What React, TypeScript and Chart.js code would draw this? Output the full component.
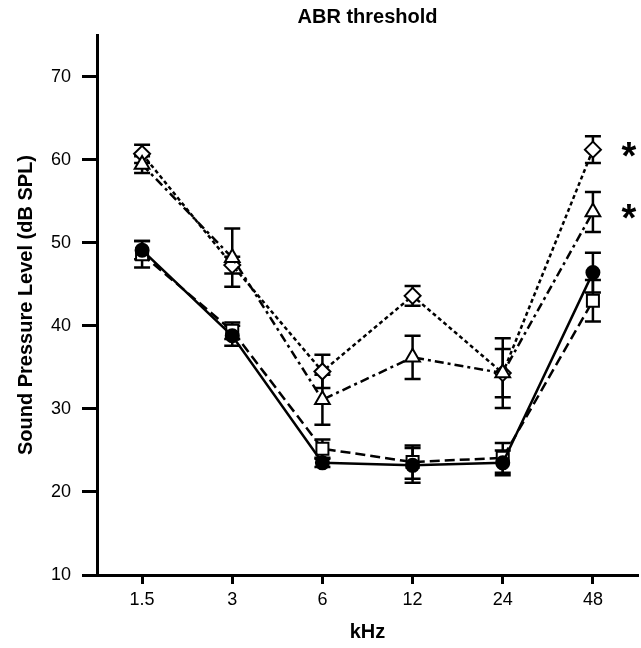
import React, { useEffect, useRef } from "react";
import { Chart, registerables } from "chart.js";

Chart.register(...registerables);

const categories = ["1.5", "3", "6", "12", "24", "48"];

const circleMean = [49.1, 38.8, 23.5, 23.2, 23.5, 46.4];
const circleErr = [1.1, 1.2, 0.5, 2.1, 1.5, 2.4];

const squareMean = [48.6, 39.4, 25.2, 23.6, 24.1, 43.0];
const squareErr = [1.6, 1.0, 1.1, 2.0, 1.8, 2.5];

const triangleMean = [59.4, 48.2, 31.1, 36.2, 34.3, 53.7];
const triangleErr = [1.0, 3.5, 3.0, 2.6, 4.2, 2.4];

const diamondMean = [60.7, 47.3, 34.5, 43.6, 34.3, 61.2];
const diamondErr = [1.1, 1.0, 2.0, 1.2, 2.9, 1.6];

// significance marks: [datasetIndex, categoryIndex]
const starMarks: [number, number][] = [
  [3, 5],
  [2, 5],
];

const errors = [circleErr, squareErr, triangleErr, diamondErr];

const FONT = "'Liberation Sans', Arial, sans-serif";

const errorBarPlugin = {
  id: "errorBars",
  beforeDatasetsDraw(chart: any) {
    const { ctx } = chart;
    const x = chart.scales.x;
    const y = chart.scales.y;
    ctx.save();
    ctx.strokeStyle = "#000";
    ctx.lineWidth = 2.5;
    chart.data.datasets.forEach((ds: any, di: number) => {
      const err = errors[di];
      ds.data.forEach((v: number, i: number) => {
        const px = x.getPixelForValue(i);
        const top = y.getPixelForValue(v + err[i]);
        const bot = y.getPixelForValue(v - err[i]);
        ctx.beginPath();
        ctx.moveTo(px, top);
        ctx.lineTo(px, bot);
        ctx.moveTo(px - 8, top);
        ctx.lineTo(px + 8, top);
        ctx.moveTo(px - 8, bot);
        ctx.lineTo(px + 8, bot);
        ctx.stroke();
      });
    });
    ctx.restore();
  },
  afterDraw(chart: any) {
    const { ctx, chartArea } = chart;
    const x = chart.scales.x;
    const y = chart.scales.y;
    ctx.save();
    ctx.fillStyle = "#000";
    ctx.font = `bold 20px ${FONT}`;
    ctx.textAlign = "center";
    ctx.textBaseline = "middle";
    ctx.fillText("ABR threshold", (chartArea.left + chartArea.right) / 2, 17);
    ctx.font = `bold 38px ${FONT}`;
    starMarks.forEach(([di, ci]) => {
      const v = chart.data.datasets[di].data[ci];
      const px = x.getPixelForValue(ci) + 36;
      const py = y.getPixelForValue(v);
      ctx.fillText("*", px, py + 9);
    });
    ctx.restore();
  },
};

export default function App() {
  const ref = useRef<HTMLCanvasElement>(null);
  useEffect(() => {
    document.body.style.margin = "0";
    const canvas = ref.current!;
    const common = {
      borderColor: "#000",
      pointBorderColor: "#000",
      borderWidth: 2.5,
      pointBorderWidth: 2,
      tension: 0,
      fill: false,
      clip: false,
    };
    const chart = new Chart(canvas, {
      type: "line",
      data: {
        labels: categories,
        datasets: [
          {
            ...common,
            label: "circle",
            data: circleMean,
            pointStyle: "circle",
            pointRadius: 6.5,
            pointBackgroundColor: "#000",
          },
          {
            ...common,
            label: "square",
            data: squareMean,
            borderDash: [10, 5],
            pointStyle: "rect",
            pointRadius: 8.5,
            pointBackgroundColor: "#fff",
          },
          {
            ...common,
            label: "triangle",
            data: triangleMean,
            borderDash: [9, 4, 3, 4],
            pointStyle: "triangle",
            pointRadius: 8.5,
            pointBackgroundColor: "#fff",
          },
          {
            ...common,
            label: "diamond",
            data: diamondMean,
            borderDash: [4, 3],
            pointStyle: "rectRot",
            pointRadius: 8,
            pointBackgroundColor: "#fff",
          },
        ],
      },
      options: {
        animation: false,
        responsive: false,
        maintainAspectRatio: false,
        layout: { autoPadding: false, padding: { top: 35, left: 10, right: 3, bottom: 0 } },
        plugins: {
          legend: { display: false },
          title: { display: false },
          tooltip: { enabled: false },
        },
        scales: {
          x: {
            type: "category",
            offset: true,
            border: { display: true, width: 3, color: "#000" },
            grid: {
              display: true,
              drawOnChartArea: false,
              drawTicks: true,
              tickLength: 9,
              tickWidth: 3,
              tickColor: "#000",
              offset: false,
            },
            ticks: {
              color: "#000",
              padding: 5,
              maxRotation: 0,
              font: { family: FONT, size: 18 },
            },
            title: {
              display: true,
              text: "kHz",
              color: "#000",
              font: { family: FONT, size: 20, weight: "bold" },
              padding: { top: 4, bottom: 4 },
            },
            afterFit: (s: any) => {
              s.height = 73;
            },
          },
          y: {
            type: "linear",
            min: 10,
            max: 75,
            border: { display: true, width: 3, color: "#000" },
            grid: {
              display: true,
              drawOnChartArea: false,
              drawTicks: true,
              tickLength: 15,
              tickWidth: 3,
              tickColor: "#000",
            },
            ticks: {
              stepSize: 10,
              color: "#000",
              padding: 11,
              font: { family: FONT, size: 18 },
            },
            afterBuildTicks: (axis: any) => {
              axis.ticks = axis.ticks.filter((t: any) => t.value % 10 === 0);
            },
            title: {
              display: true,
              text: "Sound Pressure Level (dB SPL)",
              color: "#000",
              font: { family: FONT, size: 20, weight: "bold" },
              padding: { top: 4, bottom: 4 },
            },
            afterFit: (s: any) => {
              s.width = 87;
            },
          },
        },
      },
      plugins: [errorBarPlugin],
    } as any);
    return () => chart.destroy();
  }, []);
  return <canvas ref={ref} width={641} height={648} style={{ display: "block" }} />;
}
